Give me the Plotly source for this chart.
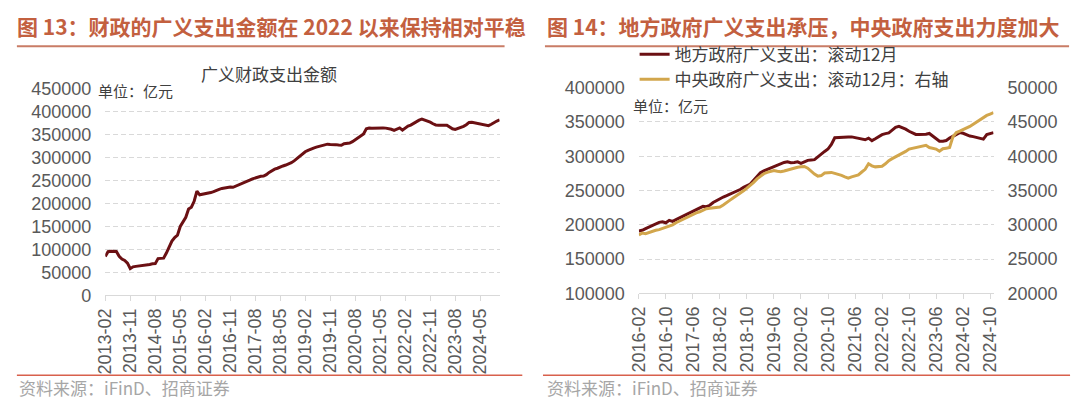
import plotly.graph_objects as go
import pandas as pd

# ---------------- data ----------------
left_dates = pd.date_range("2013-02-01", periods=143, freq="MS").strftime("%Y-%m").tolist()
broad_spending = [
    84500, 95000, 96000, 96000, 95500, 85000, 79000, 76000, 70000, 58000,
    62000, 63000, 63500, 64000, 65500, 66500, 67000, 68500, 69000, 80000,
    80500, 81000, 92000, 104000, 118000, 126000, 131000, 150000, 160000, 170000,
    188000, 192000, 205000, 227000, 219000, 220000, 221000, 222500, 224000, 226000,
    229000, 231000, 233000, 234500, 235500, 236000, 235500, 238000, 241000, 243000,
    245000, 247000, 251000, 254000, 256000, 258000, 259500, 260000, 263000, 268000,
    272000, 275000, 277000, 280000, 282000, 284000, 286000, 289000, 293000, 298000,
    303000, 309000, 313000, 316000, 319000, 321000, 323000, 325000, 327000, 329000,
    329500, 329000, 329500, 328500, 327500, 327000, 330500, 331000, 332000, 335000,
    339000, 343000, 347000, 352000, 363000, 364500, 364000, 364500, 364000, 365000,
    365000, 364500, 363500, 362000, 359700, 362000, 365000, 360000, 364000, 369000,
    371000, 375000, 378000, 382000, 384000, 382000, 381000, 377500, 374000, 371500,
    371000, 371500, 371500, 371000, 367000, 363000, 361500, 363500, 366000, 368500,
    372000, 377000, 377500, 376000, 374500, 373000, 372000, 371000, 370000, 373000,
    377000, 380000, 382500,
]

right_dates = pd.date_range("2016-02-01", periods=106, freq="MS").strftime("%Y-%m").tolist()
local_spending = [
    190900, 192000, 194500, 197000, 199000, 201000, 203500, 204500, 203000, 206500,
    205000, 207500, 210000, 212500, 215000, 217500, 220000, 223000, 225500, 227000,
    226500, 228500, 232500, 235500, 238500, 240500, 242500, 244500, 246500, 248500,
    251500, 254500, 256500, 259500, 265000, 270500, 276000, 278500, 280500, 282500,
    285000, 287500, 289500, 291000, 291800, 290500, 291000, 291800, 289500, 291500,
    294000, 294500, 295000, 299000, 303600, 307000, 310500, 317300, 327000, 327500,
    328000, 327500, 328000, 328200, 327300, 326500, 324500, 324000, 326400, 322700,
    325500, 328600, 331500, 333000, 334100, 338000, 342000, 343600, 342000, 339500,
    336400, 333500, 331800, 331800, 331500, 332000, 333200, 329000, 325000, 321800,
    322000, 323000, 326500, 329500, 332500, 334500, 333500, 330900, 329500, 328600,
    327500, 326400, 325000, 331500, 333000, 334500,
]
central_spending = [
    28500, 28800, 28700, 28900, 29100, 29200, 29300, 29450, 29650, 29800,
    30000, 30300, 30550, 30800, 31000, 31300, 31550, 31750, 31900, 32150,
    32350, 32400, 32450, 32550, 32600, 32900, 33300, 33600, 33950, 34250,
    34600, 34950, 35350, 35750, 36200, 36700, 37100, 37450, 37650, 37750,
    37900, 37800, 37750, 37850, 38000, 38050, 38200, 38400, 38450, 38500,
    38250, 37800, 37400, 37100, 37180, 37550, 37600, 37640, 37500, 37400,
    37200, 37000, 36820, 37000, 37180, 37270, 37700, 38090, 38910, 38600,
    38450, 38500, 38550, 38900, 39360, 39650, 39910, 40150, 40360, 40700,
    41050, 41150, 41270, 41400, 41500, 41590, 41270, 41150, 41050, 40730,
    41100, 41180, 41270, 42860, 43450, 43650, 43850, 44100, 44350, 44680,
    45000, 45400, 45700, 45950, 46150, 46360,
]

left_title = "图 13：财政的广义支出金额在 2022 以来保持相对平稳"
right_title = "图 14：地方政府广义支出承压，中央政府支出力度加大"
left_chart_title = "广义财政支出金额"
unit_text = "单位：亿元"
source_text = "资料来源：iFinD、招商证券"
local_name = "地方政府广义支出：滚动12月"
central_name = "中央政府广义支出：滚动12月：右轴"

# ---------------- styles ----------------
W, H = 1080, 407
CJK = "Noto Sans CJK SC"
NUM = "Liberation Sans, Arial, sans-serif"
TITLE_C = "#C3603F"
MAROON = "#6B1013"
GOLD = "#D2A64C"
GRID = "#D9D9D9"
TICK_C = "#595959"


def px(x):
    return x / W


def py(y):
    return 1 - y / H


fig = go.Figure()
fig.add_trace(go.Scatter(x=left_dates, y=broad_spending, mode="lines",
                         line=dict(color=MAROON, width=3), xaxis="x", yaxis="y",
                         showlegend=False))
fig.add_trace(go.Scatter(x=right_dates, y=local_spending, mode="lines", name=local_name,
                         line=dict(color=MAROON, width=3), xaxis="x2", yaxis="y2"))
fig.add_trace(go.Scatter(x=right_dates, y=central_spending, mode="lines", name=central_name,
                         line=dict(color=GOLD, width=3), xaxis="x2", yaxis="y3"))

tickfont = dict(family=NUM, size=18, color=TICK_C)
xcommon = dict(type="category", tickangle=-90, ticks="outside", ticklen=5, tickcolor=GRID,
               showline=True, linecolor=GRID, linewidth=1, showgrid=False, tickfont=tickfont,
               zeroline=False)
ycommon = dict(showgrid=True, gridcolor=GRID, griddash="5px,3px", gridwidth=1, zeroline=False,
               showline=False, tickformat="d", tickfont=tickfont, ticks="", ticklabelstandoff=13)

fig.update_layout(
    width=W, height=H, margin=dict(l=0, r=0, t=0, b=0),
    paper_bgcolor="white", plot_bgcolor="white",
    xaxis=dict(domain=[px(96.7), px(497)], range=[0, len(left_dates) - 1], anchor="y",
               tickvals=left_dates[::9], ticktext=left_dates[::9], **xcommon),
    yaxis=dict(domain=[py(300), py(83)], range=[0, 450000], dtick=50000, anchor="x", **ycommon),
    xaxis2=dict(domain=[px(638.3), px(998.3)], range=[0, len(right_dates) - 1], anchor="y2",
                tickvals=right_dates[::8], ticktext=right_dates[::8], **xcommon),
    yaxis2=dict(domain=[py(298), py(81.7)], range=[100000, 400000], dtick=50000, anchor="x2",
                **ycommon),
    yaxis3=dict(overlaying="y2", side="right", anchor="x2", range=[20000, 50000], dtick=5000,
                showgrid=False, zeroline=False, showline=False, tickformat="d",
                tickfont=tickfont, ticks="", ticklabelstandoff=13),
    legend=dict(x=px(634), y=py(28), xanchor="left", yanchor="top", bgcolor="rgba(0,0,0,0)",
                font=dict(family=CJK, size=17, color="#404040"), itemwidth=30,
                tracegroupgap=0),
    showlegend=True,
)

annotations = [
    dict(text=left_title, x=px(5), y=py(17), xanchor="left", yanchor="middle",
         font=dict(family=CJK, size=21, color=TITLE_C, weight="bold")),
    dict(text=right_title, x=px(543), y=py(17), xanchor="left", yanchor="middle",
         font=dict(family=CJK, size=21, color=TITLE_C, weight="bold")),
    dict(text=left_chart_title, x=px(263), y=py(67), xanchor="center", yanchor="middle",
         font=dict(family=CJK, size=17, color="#404040")),
    dict(text=unit_text, x=px(87), y=py(85), xanchor="left", yanchor="middle",
         font=dict(family=CJK, size=15, color="#404040")),
    dict(text=unit_text, x=px(630), y=py(100), xanchor="left", yanchor="middle",
         font=dict(family=CJK, size=15, color="#404040")),
    dict(text=source_text, x=px(7), y=py(397), xanchor="left", yanchor="middle",
         font=dict(family=CJK, size=17, color="#A6A6A6")),
    dict(text=source_text, x=px(543), y=py(397), xanchor="left", yanchor="middle",
         font=dict(family=CJK, size=17, color="#A6A6A6")),
]
for a in annotations:
    a.update(xref="paper", yref="paper", showarrow=False)
fig.update_layout(annotations=annotations)

shapes = [
    dict(type="line", x0=px(7), x1=px(502), y0=py(38), y1=py(38), line=dict(color="#C97C66", width=2)),
    dict(type="line", x0=px(543), x1=px(1075), y0=py(38), y1=py(38), line=dict(color="#C97C66", width=2)),
    dict(type="line", x0=px(7), x1=px(520), y0=py(384), y1=py(384), line=dict(color="#D8604C", width=1.5)),
    dict(type="line", x0=px(541), x1=px(1076), y0=py(384), y1=py(384), line=dict(color="#D8604C", width=1.5)),
]
for s in shapes:
    s.update(xref="paper", yref="paper")
fig.update_layout(shapes=shapes)

fig.write_html("out.html",
               post_script="document.body.style.margin='0';document.body.style.padding='0';")
